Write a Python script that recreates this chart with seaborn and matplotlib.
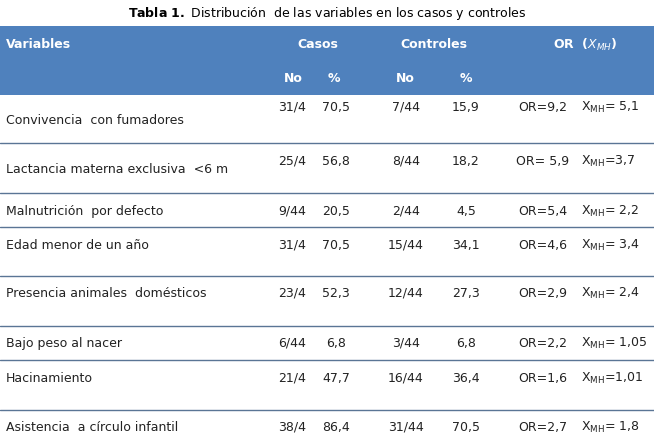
import matplotlib.pyplot as plt
import seaborn as sns

sns.set_theme(style="white")
plt.rcParams['font.family'] = 'DejaVu Sans'
plt.rcParams['mathtext.default'] = 'regular'

# Table data
variables = ['Convivencia  con fumadores', 'Lactancia materna exclusiva  <6 m',
             'Malnutrición  por defecto', 'Edad menor de un año',
             'Presencia animales  domésticos', 'Bajo peso al nacer',
             'Hacinamiento', 'Asistencia  a círculo infantil']
casos_no = ['31/4', '25/4', '9/44', '31/4', '23/4', '6/44', '21/4', '38/4']
casos_pct = ['70,5', '56,8', '20,5', '70,5', '52,3', '6,8', '47,7', '86,4']
ctrl_no = ['7/44', '8/44', '2/44', '15/44', '12/44', '3/44', '16/44', '31/44']
ctrl_pct = ['15,9', '18,2', '4,5', '34,1', '27,3', '6,8', '36,4', '70,5']
or_vals = ['OR=9,2', 'OR= 5,9', 'OR=5,4', 'OR=4,6', 'OR=2,9', 'OR=2,2', 'OR=1,6', 'OR=2,7']
xmh_vals = ['= 5,1', '=3,7', '= 2,2', '= 3,4', '= 2,4', '= 1,05', '=1,01', '= 1,8']

# layout (pixel space)
name_y = [120, 169, 211, 245, 293, 343, 378, 427]
num_y = [107, 161, 211, 245, 293, 343, 378, 427]
seps = [143, 193, 227, 276, 326, 360, 410]

fig = plt.figure(figsize=(6.54, 4.36), dpi=100)
ax = fig.add_axes([0, 0, 1, 1])
ax.set_xlim(0, 654)
ax.set_ylim(436, 0)
ax.axis('off')

fs = 9
ax.text(327, 13, r'$\bf{Tabla\ 1.}$ Distribución  de las variables en los casos y controles',
        ha='center', va='center', fontsize=fs, color='black')

blue = '#4f81bd'
ax.add_patch(plt.Rectangle((0, 26), 654, 69, color=blue, lw=0))
hdr = dict(color='white', fontweight='bold', fontsize=fs, va='center')
ax.text(6, 45, 'Variables', ha='left', **hdr)
ax.text(318, 45, 'Casos', ha='center', **hdr)
ax.text(434, 45, 'Controles', ha='center', **hdr)
ax.text(585, 45, r'OR  $(\mathit{X}_{\mathit{MH}})$', ha='center', **hdr)
for x, lab in zip([293, 334, 405, 466], ['No', '%', 'No', '%']):
    ax.text(x, 78, lab, ha='center', **hdr)

for y in seps:
    ax.plot([0, 654], [y, y], color='#5a7595', lw=1)

for i in range(len(variables)):
    ax.text(6, name_y[i], variables[i], ha='left', va='center', fontsize=fs, color='#222222')
    y = num_y[i]
    ax.text(292, y, casos_no[i], ha='center', va='center', fontsize=fs, color='#222222')
    ax.text(336, y, casos_pct[i], ha='center', va='center', fontsize=fs, color='#222222')
    ax.text(406, y, ctrl_no[i], ha='center', va='center', fontsize=fs, color='#222222')
    ax.text(466, y, ctrl_pct[i], ha='center', va='center', fontsize=fs, color='#222222')
    ax.text(543, y, or_vals[i], ha='center', va='center', fontsize=fs, color='#222222')
    ax.text(581, y, r'X$_{\rm MH}$' + xmh_vals[i], ha='left', va='center', fontsize=fs, color='#222222')

plt.savefig('out.png', dpi=100)
